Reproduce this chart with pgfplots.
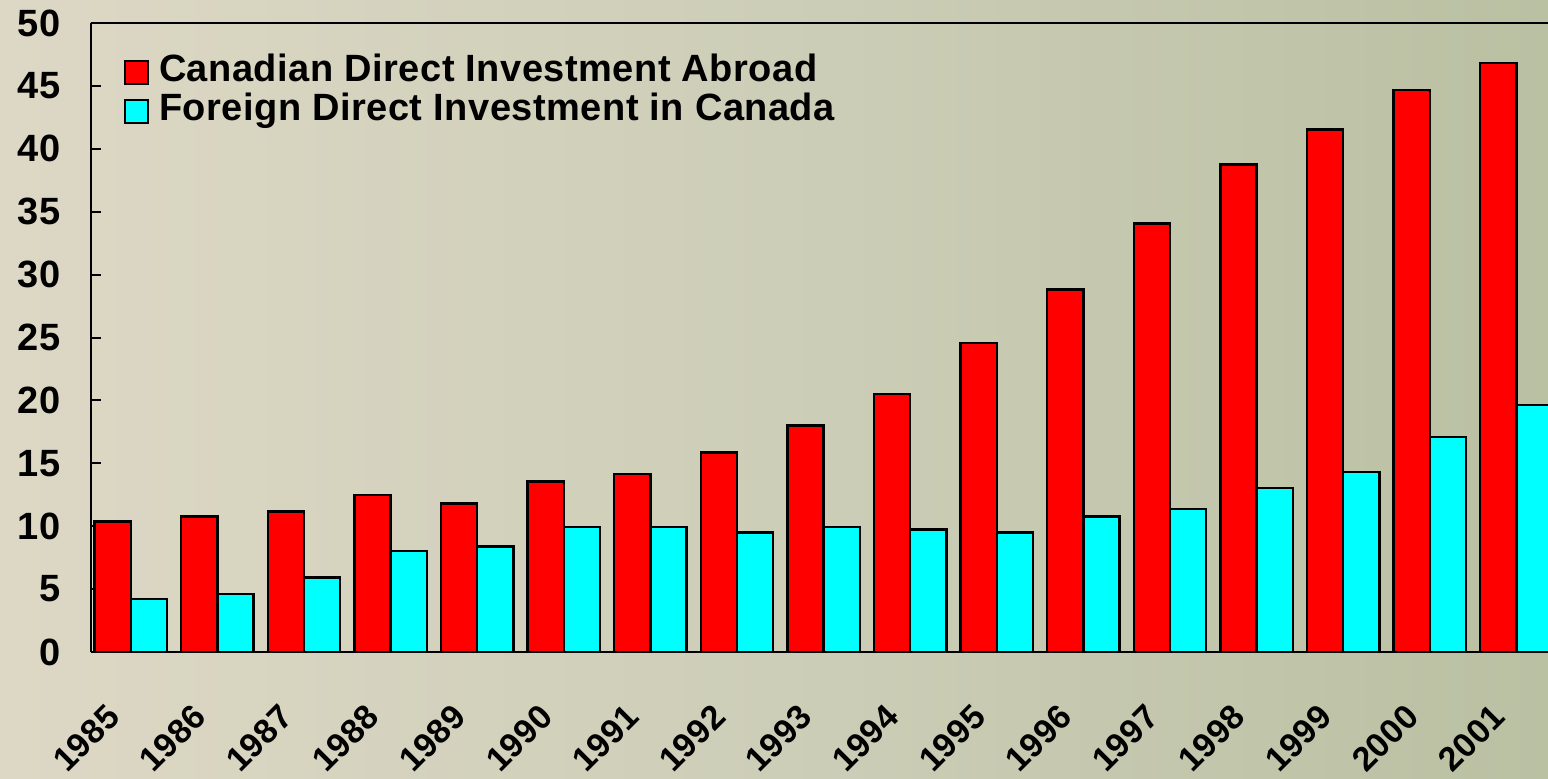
\documentclass[border=0pt]{standalone}
\usepackage{pgfplots}
\pgfplotsset{compat=1.18}
\usepackage{fontspec}
\setmainfont[LetterSpace=1.3]{Liberation Sans}
\newcommand{\bigfnt}{\fontsize{19}{22}\selectfont\bfseries}
\newcommand{\yrfnt}{\fontsize{17}{20}\selectfont\bfseries}
\definecolor{bgL}{RGB}{221,216,197}
\definecolor{bgM}{RGB}{205,206,184}
\definecolor{bgR}{RGB}{186,192,162}
\definecolor{barred}{RGB}{255,0,0}
\definecolor{barcyan}{RGB}{0,255,255}
\begin{document}
\begin{tikzpicture}
\fill[left color=bgL, right color=bgR, middle color=bgM] (0,0) rectangle (774pt,389pt);
\begin{axis}[
  at={(45.35pt,63pt)}, anchor=south west,
  scale only axis, width=728.65pt, height=314.5pt,
  xmin=-0.462, xmax=16.366, ymin=0, ymax=50,
  axis x line*=box, axis y line*=left,
  axis line style={line width=1pt, black},
  ytick={0,5,...,50}, ytick pos=left, tick align=inside,
  major tick length=5pt,
  every tick/.style={black, line width=1pt},
  xtick={0,...,16},
  xticklabels={1985,1986,1987,1988,1989,1990,1991,1992,1993,1994,1995,1996,1997,1998,1999,2000,2001},
  x tick style={draw=none},
  /pgf/number format/assume math mode=true,
  yticklabel style={font=\bigfnt, inner sep=0pt, xshift=-15pt},
  xticklabel style={font=\yrfnt, inner sep=0pt, xshift=-13pt, yshift=-25pt, rotate=45, anchor=north east},
  legend style={at={(0,1)}, anchor=north west, xshift=16.7pt, yshift=-15.85pt,
    draw=none, fill=none, inner sep=0pt, outer sep=0pt, font=\bigfnt,
    row sep=2pt,
    nodes={inner sep=0pt, text height=13.5pt, text depth=4pt},
    /tikz/every odd column/.append style={column sep=5pt}},
  legend cell align=left,
  legend image code/.code={\draw[#1, line width=1pt] (0pt,-5.75pt) rectangle (11.5pt,5.75pt);},
]
\addplot[ybar, bar width=0.418, bar shift=-0.209, fill=barred, draw=black, line width=1.2pt]
coordinates {(0,10.36) (1,10.76) (2,11.18) (3,12.48) (4,11.82) (5,13.54) (6,14.15) (7,15.87) (8,17.99) (9,20.51) (10,24.54) (11,28.80) (12,34.07) (13,38.74) (14,41.52) (15,44.67) (16,46.80)};
\addplot[ybar, bar width=0.418, bar shift=0.209, fill=barcyan, draw=black, line width=1.2pt]
coordinates {(0,4.21) (1,4.61) (2,5.91) (3,8.03) (4,8.40) (5,9.94) (6,9.94) (7,9.51) (8,9.94) (9,9.73) (10,9.49) (11,10.78) (12,11.37) (13,13.06) (14,14.31) (15,17.11) (16,19.63)};
\legend{Canadian Direct Investment Abroad, Foreign Direct Investment in Canada}
\end{axis}
\pgfresetboundingbox
\useasboundingbox (0,0) rectangle (774pt,389pt);
\end{tikzpicture}
\end{document}
